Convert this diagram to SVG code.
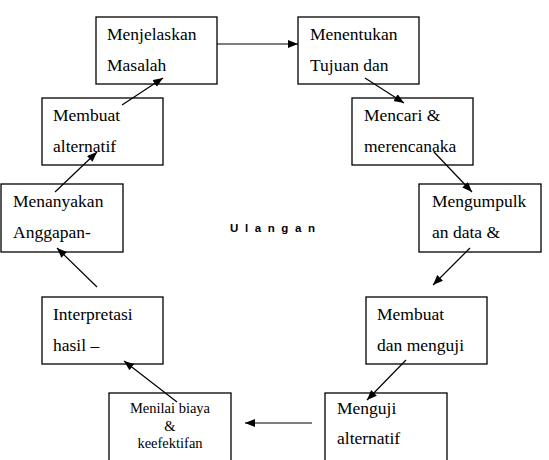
<svg xmlns="http://www.w3.org/2000/svg" width="549" height="460" viewBox="0 0 549 460">
<defs>
<style>
.box{fill:#fff;stroke:#000;stroke-width:1.3}
.c line{stroke:#000;stroke-width:1.2;marker-end:url(#ah)}
</style>
<marker id="ah" markerUnits="userSpaceOnUse" markerWidth="11" markerHeight="9" refX="10" refY="4" orient="auto">
<path d="M0,0 L10,4 L0,8 z" fill="#000"/>
</marker>
</defs>
<rect width="549" height="460" fill="#fff"/>
<g font-family="'Liberation Serif', serif" font-size="17.5" fill="#000">
<g id="n1"><rect class="box" x="96" y="17" width="121" height="67"/><text x="107" y="40">Menjelaskan</text><text x="107" y="71">Masalah</text></g>
<g id="n2"><rect class="box" x="298" y="17" width="121" height="67"/><text x="310" y="40">Menentukan</text><text x="310" y="71">Tujuan dan</text></g>
<g id="n3"><rect class="box" x="352" y="98" width="121" height="67"/><text x="364" y="121">Mencari &amp;</text><text x="364" y="152">merencanaka</text></g>
<g id="n4"><rect class="box" x="419" y="184" width="122" height="68"/><text x="432" y="207">Mengumpulk</text><text x="432" y="238">an data &amp;</text></g>
<g id="n5"><rect class="box" x="366" y="297" width="121" height="67"/><text x="377" y="320">Membuat</text><text x="377" y="351">dan menguji</text></g>
<g id="n6"><rect class="box" x="325" y="393" width="122" height="80"/><text x="337" y="414">Menguji</text><text x="337" y="444">alternatif</text></g>
<g id="n7" font-size="14.5" text-anchor="middle"><rect class="box" x="109" y="393" width="122" height="80"/><text x="170" y="413">Menilai biaya</text><text x="170" y="431">&amp;</text><text x="170" y="448">keefektifan</text></g>
<g id="n8"><rect class="box" x="42" y="297" width="121" height="67"/><text x="53" y="320">Interpretasi</text><text x="53" y="351">hasil –</text></g>
<g id="n9"><rect class="box" x="1" y="184" width="122" height="68"/><text x="13" y="207">Menanyakan</text><text x="13" y="238">Anggapan-</text></g>
<g id="n10"><rect class="box" x="42" y="98" width="121" height="67"/><text x="53" y="121">Membuat</text><text x="53" y="152">alternatif</text></g>
</g>
<text x="230" y="232" font-family="'Liberation Sans', Arial, sans-serif" font-size="11.5" font-weight="bold" letter-spacing="6.6" fill="#000">Ulangan</text>
<g class="c" id="connectors">
<line x1="217" y1="44" x2="298" y2="44"/>
<line x1="365" y1="78" x2="404" y2="103"/>
<line x1="434" y1="152" x2="472" y2="192"/>
<line x1="470" y1="248" x2="433" y2="285"/>
<line x1="406" y1="360" x2="367" y2="400"/>
<line x1="312" y1="423" x2="245" y2="423"/>
<line x1="177" y1="402" x2="124" y2="361"/>
<line x1="97" y1="287" x2="57" y2="248"/>
<line x1="55" y1="192" x2="97" y2="152"/>
<line x1="122" y1="105" x2="163" y2="78"/>
</g>
</svg>
